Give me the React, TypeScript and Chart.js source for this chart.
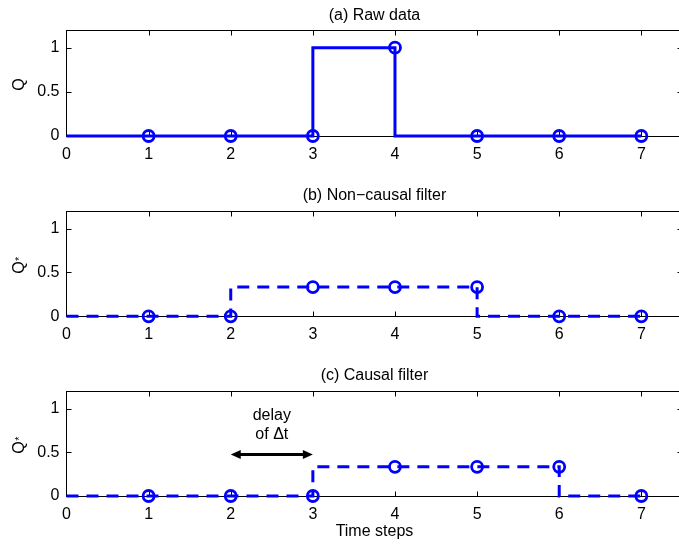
import React, { useEffect, useRef } from "react";
import { Chart, registerables } from "chart.js";

Chart.register(...registerables);

// Time axis and the three signals (raw, non-causal filtered, causal filtered)
const STEPS = [0, 1, 2, 3, 4, 5, 6, 7];
const RAW_Q = [0, 0, 0, 0, 1, 0, 0, 0];
const NONCAUSAL_Q = [0, 0, 0, 0.333, 0.333, 0.333, 0, 0];
const CAUSAL_Q = [0, 0, 0, 0, 0.333, 0.333, 0.333, 0];

const X_TICKS = [0, 1, 2, 3, 4, 5, 6, 7];
const Y_TICKS = [0, 0.5, 1];
const X_MAX = 7.5;
const Y_MAX = 1.2;

const TITLES = ["(a) Raw data", "(b) Non\u2212causal filter", "(c) Causal filter"];
const X_TITLE = "Time steps";
const DELAY_LINES = ["delay", "of \u0394t"];
const DELAY_FROM = 2;
const DELAY_TO = 3;
const DELAY_LEVEL = 0.475;
const DELAY_TEXT_LEVELS = [0.915, 0.7];

const FONT = "'Liberation Sans', Arial, Helvetica, sans-serif";
const BLUE = "#0000ff";
const CANVAS_W = 700;
const X_AXIS_H = 40;

type Panel = {
  title: string;
  values: number[];
  dashed: boolean;
  starred: boolean;
  height: number;
  top: number;
  bottom: number;
  xTitle?: string;
  delayNote?: boolean;
};

const PANELS: Panel[] = [
  { title: TITLES[0], values: RAW_Q, dashed: false, starred: false, height: 180, top: 30, bottom: 136 },
  { title: TITLES[1], values: NONCAUSAL_Q, dashed: true, starred: true, height: 180, top: 31, bottom: 136.3 },
  { title: TITLES[2], values: CAUSAL_Q, dashed: true, starred: true, height: 184, top: 31, bottom: 136, xTitle: X_TITLE, delayNote: true },
];

function framePlugin(p: Panel) {
  return {
    id: "frame",
    beforeDatasetsDraw(chart: any) {
      const { ctx, chartArea: a, scales } = chart;
      const xs = scales.x;
      const ys = scales.y;
      const L = Math.floor(a.left) + 0.5;
      const R = Math.floor(a.right) + 0.5;
      const T = Math.floor(a.top) + 0.5;
      const B = Math.floor(a.bottom) + 0.5;
      ctx.save();
      ctx.strokeStyle = "#000";
      ctx.lineWidth = 1;
      ctx.strokeRect(L, T, R - L, B - T);
      ctx.beginPath();
      X_TICKS.forEach((v) => {
        if (v === 0) return;
        const px = Math.round(xs.getPixelForValue(v)) + 0.5;
        ctx.moveTo(px, B);
        ctx.lineTo(px, B - 5);
        ctx.moveTo(px, T);
        ctx.lineTo(px, T + 5);
      });
      Y_TICKS.forEach((v) => {
        if (v === 0) return;
        const py = Math.round(ys.getPixelForValue(v)) + 0.5;
        ctx.moveTo(L, py);
        ctx.lineTo(L + 5, py);
        ctx.moveTo(R, py);
        ctx.lineTo(R - 5, py);
      });
      ctx.stroke();
      ctx.restore();
    },
    afterDraw(chart: any) {
      const { ctx, chartArea: a, scales } = chart;
      const xs = scales.x;
      const ys = scales.y;
      const cx = (a.left + a.right) / 2;
      const midY = (a.top + a.bottom) / 2;
      ctx.save();
      ctx.fillStyle = "#000";

      // panel title
      ctx.font = `16px ${FONT}`;
      ctx.textAlign = "center";
      ctx.textBaseline = "middle";
      ctx.fillText(p.title, cx, 15.5);

      // rotated y label
      ctx.save();
      ctx.translate(20, midY);
      ctx.rotate(-Math.PI / 2);
      ctx.font = `16px ${FONT}`;
      ctx.textBaseline = "middle";
      if (p.starred) {
        const qx = -4;
        const wq = ctx.measureText("Q").width;
        ctx.textAlign = "center";
        ctx.fillText("Q", qx, 0);
        ctx.font = `11px ${FONT}`;
        ctx.textAlign = "left";
        ctx.fillText("*", qx + wq / 2 + 0.5, 0);
      } else {
        ctx.textAlign = "center";
        ctx.fillText("Q", -1.5, 0);
      }
      ctx.restore();

      // x axis title
      if (p.xTitle) {
        ctx.font = `16px ${FONT}`;
        ctx.textAlign = "center";
        ctx.textBaseline = "middle";
        ctx.fillText(p.xTitle, cx, a.bottom + 36);
      }

      // delay annotation with a double-headed arrow
      if (p.delayNote) {
        const x0 = xs.getPixelForValue(DELAY_FROM);
        const x1 = xs.getPixelForValue(DELAY_TO);
        const ya = ys.getPixelForValue(DELAY_LEVEL);
        const xm = xs.getPixelForValue((DELAY_FROM + DELAY_TO) / 2);
        ctx.font = `16px ${FONT}`;
        ctx.textAlign = "center";
        ctx.textBaseline = "middle";
        DELAY_LINES.forEach((t, i) => ctx.fillText(t, xm, ys.getPixelForValue(DELAY_TEXT_LEVELS[i])));
        const head = 10;
        const hw = 4.5;
        ctx.strokeStyle = "#000";
        ctx.lineWidth = 3;
        ctx.beginPath();
        ctx.moveTo(x0 + head - 1, ya);
        ctx.lineTo(x1 - head + 1, ya);
        ctx.stroke();
        ctx.beginPath();
        ctx.moveTo(x0, ya);
        ctx.lineTo(x0 + head, ya - hw);
        ctx.lineTo(x0 + head, ya + hw);
        ctx.closePath();
        ctx.moveTo(x1, ya);
        ctx.lineTo(x1 - head, ya - hw);
        ctx.lineTo(x1 - head, ya + hw);
        ctx.closePath();
        ctx.fill();
      }
      ctx.restore();
    },
  };
}

function StepPanel({ panel }: { panel: Panel }) {
  const ref = useRef<HTMLCanvasElement | null>(null);

  useEffect(() => {
    if (!ref.current) return;
    const tickFont = { family: FONT, size: 16 };
    const chart = new Chart(ref.current, {
      type: "line",
      data: {
        datasets: [
          {
            data: STEPS.map((x, i) => ({ x, y: panel.values[i] })),
            stepped: "after",
            borderColor: BLUE,
            borderWidth: 3,
            borderDash: panel.dashed ? [12, 8] : [],
            borderCapStyle: "butt",
            borderJoinStyle: "miter",
            fill: false,
            pointStyle: "circle",
            pointRadius: (c: any) => (c.dataIndex === 0 ? 0 : 5.5),
            pointBorderWidth: 2.8,
            pointBorderColor: BLUE,
            pointBackgroundColor: "rgba(0,0,0,0)",
            clip: false,
          } as any,
        ],
      },
      options: {
        animation: false,
        responsive: false,
        events: [],
        layout: {
          padding: { top: panel.top, bottom: panel.height - panel.bottom - X_AXIS_H, left: 0, right: CANVAS_W - 682.4 },
        },
        plugins: {
          legend: { display: false },
          tooltip: { enabled: false },
          title: { display: false },
        },
        scales: {
          x: {
            type: "linear",
            min: 0,
            max: X_MAX,
            grid: { display: false, drawTicks: false },
            border: { display: false },
            afterBuildTicks: (s: any) => {
              s.ticks = X_TICKS.map((value) => ({ value }));
            },
            afterFit: (s: any) => {
              s.height = X_AXIS_H;
            },
            ticks: {
              color: "#000",
              font: tickFont,
              padding: 9,
              maxRotation: 0,
              autoSkip: false,
              callback: (v: any) => String(v),
            },
          },
          y: {
            type: "linear",
            min: 0,
            max: Y_MAX,
            grid: { display: false, drawTicks: false },
            border: { display: false },
            afterBuildTicks: (s: any) => {
              s.ticks = Y_TICKS.map((value) => ({ value }));
            },
            afterFit: (s: any) => {
              s.width = 66.5;
            },
            ticks: {
              color: "#000",
              font: tickFont,
              padding: 7,
              callback: (v: any) => String(v),
            },
          },
        },
      } as any,
      plugins: [framePlugin(panel)],
    });
    return () => chart.destroy();
  }, [panel]);

  return <canvas ref={ref} width={CANVAS_W} height={panel.height} style={{ display: "block" }} />;
}

export default function App() {
  return (
    <div
      style={{
        position: "absolute",
        left: 0,
        top: 0,
        width: 679,
        height: 544,
        overflow: "hidden",
        background: "#fff",
      }}
    >
      {PANELS.map((p, i) => (
        <StepPanel key={i} panel={p} />
      ))}
    </div>
  );
}
